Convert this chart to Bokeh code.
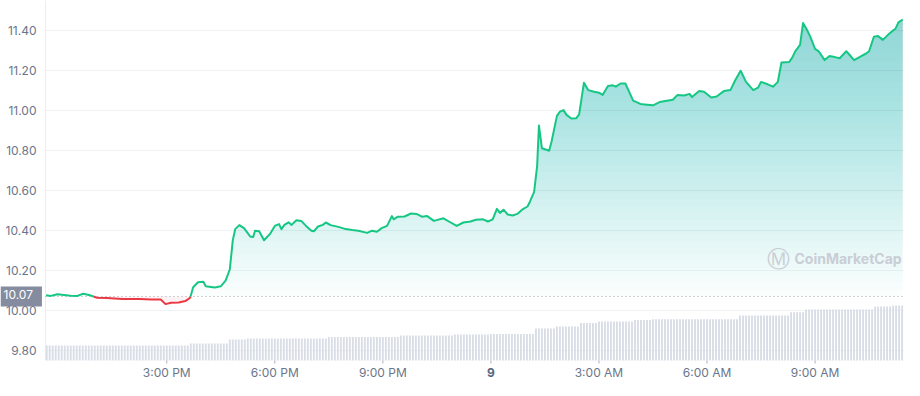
import numpy as np
import pandas as pd
from bokeh.plotting import figure
from bokeh.models import Range1d, Label
from bokeh.embed import file_html
from bokeh.resources import INLINE

# ---------------- data ----------------
DATE_PREFIX = "2023-03-"  # day numbers below are "08" and "09"

price_times = [
    "08 11:39", "08 11:47", "08 11:58", "08 12:20", "08 12:31", "08 12:41", "08 12:52", "08 13:04",
    "08 13:20", "08 13:46", "08 14:14", "08 14:35", "08 14:50", "08 14:58", "08 15:07", "08 15:20",
    "08 15:31", "08 15:39", "08 15:44", "08 15:52", "08 16:01", "08 16:05", "08 16:20", "08 16:30",
    "08 16:38", "08 16:45", "08 16:50", "08 16:54", "08 17:01", "08 17:09", "08 17:14", "08 17:19",
    "08 17:24", "08 17:27", "08 17:34", "08 17:42", "08 17:52", "08 18:00", "08 18:07", "08 18:11",
    "08 18:16", "08 18:23", "08 18:28", "08 18:36", "08 18:44", "08 18:52", "08 19:01", "08 19:05",
    "08 19:12", "08 19:20", "08 19:25", "08 19:33", "08 19:46", "08 19:58", "08 20:09", "08 20:19",
    "08 20:34", "08 20:42", "08 20:50", "08 20:58", "08 21:07", "08 21:15", "08 21:18", "08 21:25",
    "08 21:36", "08 21:47", "08 21:56", "08 22:05", "08 22:14", "08 22:25", "08 22:41", "08 22:53",
    "08 23:03", "08 23:14", "08 23:26", "08 23:35", "08 23:47", "08 23:55", "09 00:03", "09 00:10",
    "09 00:15", "09 00:21", "09 00:28", "09 00:36", "09 00:44", "09 00:52", "09 01:01", "09 01:05",
    "09 01:12", "09 01:17", "09 01:20", "09 01:25", "09 01:30", "09 01:37", "09 01:41", "09 01:50",
    "09 01:55", "09 02:01", "09 02:06", "09 02:14", "09 02:22", "09 02:27", "09 02:35", "09 02:42",
    "09 02:52", "09 03:00", "09 03:06", "09 03:15", "09 03:23", "09 03:28", "09 03:36", "09 03:44",
    "09 03:49", "09 03:57", "09 04:09", "09 04:20", "09 04:30", "09 04:41", "09 04:53", "09 05:03",
    "09 05:11", "09 05:22", "09 05:31", "09 05:35", "09 05:47", "09 05:55", "09 06:07", "09 06:16",
    "09 06:28", "09 06:39", "09 06:47", "09 06:56", "09 07:05", "09 07:17", "09 07:25", "09 07:30",
    "09 07:41", "09 07:50", "09 07:58", "09 08:04", "09 08:17", "09 08:22", "09 08:27", "09 08:35",
    "09 08:40", "09 08:47", "09 08:52", "09 09:00", "09 09:06", "09 09:16", "09 09:24", "09 09:33",
    "09 09:41", "09 09:52", "09 09:57", "09 10:05", "09 10:17", "09 10:25", "09 10:30", "09 10:38",
    "09 10:45", "09 10:53", "09 11:01", "09 11:09", "09 11:14", "09 11:19", "09 11:26",
]
prices = [
    10.076, 10.073, 10.081, 10.074, 10.073, 10.084, 10.076, 10.064,
    10.062, 10.057, 10.057, 10.055, 10.055, 10.032, 10.039, 10.040,
    10.047, 10.064, 10.116, 10.141, 10.144, 10.121, 10.115, 10.121,
    10.149, 10.205, 10.351, 10.407, 10.427, 10.411, 10.391, 10.370,
    10.367, 10.399, 10.396, 10.351, 10.383, 10.423, 10.432, 10.407,
    10.428, 10.441, 10.428, 10.451, 10.448, 10.423, 10.399, 10.396,
    10.420, 10.428, 10.440, 10.427, 10.418, 10.407, 10.402, 10.399,
    10.388, 10.399, 10.394, 10.412, 10.423, 10.472, 10.456, 10.469,
    10.470, 10.485, 10.483, 10.469, 10.472, 10.448, 10.461, 10.440,
    10.423, 10.440, 10.445, 10.454, 10.456, 10.445, 10.456, 10.508,
    10.488, 10.504, 10.480, 10.475, 10.483, 10.504, 10.520, 10.544,
    10.593, 10.722, 10.925, 10.811, 10.806, 10.799, 10.844, 10.973,
    10.994, 11.002, 10.978, 10.960, 10.961, 10.981, 11.139, 11.102,
    11.094, 11.089, 11.078, 11.123, 11.126, 11.119, 11.135, 11.135,
    11.102, 11.049, 11.033, 11.029, 11.026, 11.042, 11.049, 11.054,
    11.078, 11.075, 11.083, 11.067, 11.097, 11.094, 11.065, 11.070,
    11.097, 11.102, 11.151, 11.199, 11.143, 11.102, 11.114, 11.143,
    11.131, 11.119, 11.143, 11.240, 11.243, 11.264, 11.296, 11.328,
    11.437, 11.401, 11.369, 11.308, 11.296, 11.252, 11.272, 11.267,
    11.261, 11.296, 11.280, 11.252, 11.272, 11.285, 11.296, 11.369,
    11.372, 11.353, 11.377, 11.398, 11.409, 11.441, 11.455,
]
open_price = 10.07

# volume (millions) shown as 5-minute bars; level changes
vol_step_times = ["08 11:35", "08 15:40", "08 16:45", "08 17:15", "08 19:30", "08 21:30",
                  "08 23:00", "09 00:00", "09 01:15", "09 01:50", "09 02:30", "09 03:00",
                  "09 04:00", "09 04:30", "09 06:55", "09 08:20", "09 08:45", "09 10:40",
                  "09 11:10"]
vol_step_levels = [3.0, 3.4, 4.2, 4.4, 4.7, 5.0, 5.2, 5.3, 6.4, 6.8, 7.5, 7.8, 8.1, 8.25,
                   9.0, 9.65, 10.2, 10.8, 11.0]
vol_first_bar = "08 11:40"
vol_last_bar = "09 11:25"

x_tick_times = ["08 15:00", "08 18:00", "08 21:00", "09 00:00", "09 03:00", "09 06:00", "09 09:00"]
x_tick_labels = ["3:00 PM", "6:00 PM", "9:00 PM", "9", "3:00 AM", "6:00 AM", "9:00 AM"]
y_ticks = [9.80, 10.00, 10.20, 10.40, 10.60, 10.80, 11.00, 11.20, 11.40]

# ---------------- layout / style ----------------
W, H = 904, 380
AXIS_PX = 45                 # left label gutter (px)
x_data_view = ["08 11:38", "09 11:29"]
PX_PER_PRICE = 200.0
y_top = 11.55                # price at the top edge of the canvas
y_view = (y_top - H / PX_PER_PRICE, y_top)
price_floor = 9.75           # price level of the volume baseline
VOL_PER_PX = 0.2             # millions per px
TICK_PX = 3

GREEN = "#16c784"
RED = "#ea3943"
TEXT = "#6b7589"
FONT = "Inter"


def to_ms(strings):
    idx = pd.to_datetime([DATE_PREFIX + s for s in strings], format="%Y-%m-%d %H:%M")
    return (idx.astype("int64") // 10**6).to_numpy().astype(float)


t = to_ms(price_times)
pr = np.array(prices, dtype=float)

d0, d1 = to_ms(x_data_view)
ms_per_px = (d1 - d0) / (W - AXIS_PX)
x_start = d0 - AXIS_PX * ms_per_px

floor_px = (price_floor - y_view[0]) * PX_PER_PRICE
vol_start = -floor_px * VOL_PER_PX
vol_end = vol_start + H * VOL_PER_PX

p = figure(width=W, height=H, output_backend="svg", toolbar_location=None,
           x_range=Range1d(x_start, d1), y_range=Range1d(*y_view),
           x_axis_location=None, y_axis_location=None,
           min_border=0, min_border_left=0, min_border_right=0,
           min_border_top=0, min_border_bottom=0)
p.extra_y_ranges = {"vol": Range1d(vol_start, vol_end)}
p.outline_line_color = None
p.background_fill_color = "white"
p.border_fill_color = "white"
p.xgrid.visible = False
p.ygrid.visible = False

# horizontal grid lines and left axis line
p.segment(x0=d0, x1=d1, y0=y_ticks, y1=y_ticks, line_color="#eff2f5", line_width=1)
p.segment(x0=d0, x1=d0, y0=price_floor, y1=y_view[1], line_color="#e9ecf1", line_width=1)

# volume bars
bar_t = pd.date_range(DATE_PREFIX + vol_first_bar, DATE_PREFIX + vol_last_bar, freq="5min")
bar_ms = (bar_t.astype("int64") // 10**6).to_numpy().astype(float)
step_ms = to_ms(vol_step_times)
bar_vol = np.array(vol_step_levels)[np.searchsorted(step_ms, bar_ms, side="right") - 1]
p.vbar(x=bar_ms, top=bar_vol, bottom=0, width=5 * 60 * 1000 * 0.62, y_range_name="vol",
       fill_color="#d8dde6", line_color=None)


def with_crossings(x, y, levels):
    """insert the points where the polyline crosses the given horizontal levels"""
    ox, oy = [x[0]], [y[0]]
    for i in range(1, len(x)):
        y0, y1 = y[i - 1], y[i]
        cr = []
        for L in levels:
            if (y0 - L) * (y1 - L) < 0:
                f = (L - y0) / (y1 - y0)
                cr.append((f, L))
        for f, L in sorted(cr):
            ox.append(x[i - 1] + f * (x[i] - x[i - 1]))
            oy.append(L)
        ox.append(x[i])
        oy.append(y1)
    return np.array(ox), np.array(oy)


# gradient-like fill above the opening price: stacked translucent layers
top_level = float(pr.max())
n_layers = 40
TOP_ALPHA = 0.37
BASE_ALPHA = 0.02
levels = list(np.linspace(open_price, top_level, n_layers + 1)[:-1])
fx, fy = with_crossings(t, pr, levels + [open_price])
p.varea(x=fx, y1=open_price, y2=np.maximum(fy, open_price), fill_color=GREEN,
        fill_alpha=BASE_ALPHA)
a = 1 - ((1 - TOP_ALPHA) / (1 - BASE_ALPHA)) ** (1.0 / (n_layers - 1))
for L in levels[1:]:
    p.varea(x=fx, y1=L, y2=np.maximum(fy, L), fill_color=GREEN, fill_alpha=a)
p.varea(x=fx, y1=np.minimum(fy, open_price), y2=open_price, fill_color=RED, fill_alpha=0.06)

# dotted opening-price line
p.segment(x0=d0, x1=d1, y0=open_price, y1=open_price, line_color="#9ea5b3",
          line_width=1, line_dash="1 3")

# price line split into green / red parts
lx, ly = with_crossings(t, pr, [open_price])
seg_x, seg_y, seg_c = [], [], []
cur_x, cur_y = [lx[0]], [ly[0]]
cur_up = ly[0] >= open_price
for i in range(1, len(lx)):
    if ly[i] == open_price and i + 1 < len(lx):
        up = ly[i + 1] >= open_price
    else:
        up = ly[i] >= open_price
    cur_x.append(lx[i]); cur_y.append(ly[i])
    if up != cur_up:
        seg_x.append(cur_x); seg_y.append(cur_y); seg_c.append(GREEN if cur_up else RED)
        cur_x, cur_y, cur_up = [lx[i]], [ly[i]], up
seg_x.append(cur_x); seg_y.append(cur_y); seg_c.append(GREEN if cur_up else RED)
p.multi_line(xs=seg_x, ys=seg_y, line_color=seg_c, line_width=2, line_join="round")

# ---------------- axes drawn inside the canvas ----------------
xt = to_ms(x_tick_times)
p.segment(x0=xt, x1=xt, y0=price_floor, y1=price_floor - TICK_PX / PX_PER_PRICE,
          line_color="#a9b0bc", line_width=1)
label_y = floor_px - TICK_PX - 9  # px above canvas bottom
for tx, lab in zip(xt, x_tick_labels):
    bold = lab.isdigit()
    p.add_layout(Label(x=tx, y=label_y, x_units="data", y_units="screen", text=lab,
                       text_font=FONT, text_font_size="12px",
                       text_font_style="bold" if bold else "normal",
                       text_color="#58667e" if bold else TEXT,
                       text_align="center", text_baseline="middle"))

for yv in y_ticks:
    p.add_layout(Label(x=AXIS_PX - 9, y=yv, x_units="screen", y_units="data",
                       text=f"{yv:.2f}", text_font=FONT, text_font_size="12px",
                       text_color=TEXT, text_align="right", text_baseline="middle"))

# opening-price tag
p.add_layout(Label(x=0, y=open_price, x_units="screen", y_units="data",
                   text=f"{open_price:.2f}", text_font=FONT, text_font_size="12px",
                   text_color="white", text_align="left", text_baseline="middle",
                   background_fill_color="#858ca0", padding=(3, 9, 3, 8)))

# watermark
p.add_layout(Label(x=766, y=122, x_units="screen", y_units="screen", text="Ⓜ",
                   text_font="DejaVu Sans", text_font_size="23px", text_color="#c9cdd5",
                   text_align="left", text_baseline="middle"))
p.add_layout(Label(x=794, y=122, x_units="screen", y_units="screen", text="CoinMarketCap",
                   text_font=FONT, text_font_size="14px", text_font_style="bold",
                   text_color="#c9cdd5", text_align="left", text_baseline="middle"))

open("out.html", "w").write(file_html(p, INLINE))
